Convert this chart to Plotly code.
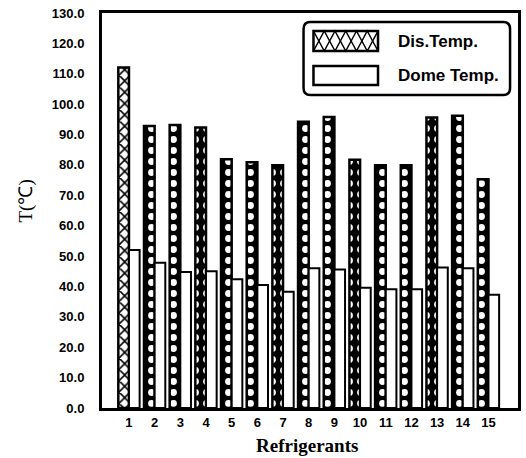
import plotly.graph_objects as go

refrigerants = list(range(1, 16))
tick_labels = [str(i) for i in refrigerants]
dis_temp = [112.1, 92.8, 93.1, 92.3, 81.9, 80.9, 79.9, 94.2, 95.8, 81.7, 79.9, 79.9, 95.6, 96.2, 75.3]
dome_temp = [52.0, 47.8, 44.8, 45.0, 42.4, 40.5, 38.3, 46.0, 45.6, 39.6, 39.1, 39.1, 46.2, 46.0, 37.3]
series_names = ["Dis.Temp.", "Dome Temp."]
y_ticks = [i * 10 for i in range(14)]
y_tick_text = [f"{v:.1f}" for v in y_ticks]

W, H = 526, 458
ML, MR, MT, MB = 102, 5, 13, 50
PW, PH = W - ML - MR, H - MT - MB


def px(x):
    return (x - ML) / PW


def py(y):
    return (H - MB - y) / PH


fig = go.Figure()
# first refrigerant: cross-hatched discharge bar
fig.add_trace(go.Bar(
    x=refrigerants[:1], y=dis_temp[:1], name=series_names[0], offsetgroup="dis",
    marker=dict(color="white", line=dict(color="black", width=2.5),
                pattern=dict(shape="x", fillmode="replace", bgcolor="white",
                             fgcolor="black", size=8, solidity=0.35)),
    showlegend=False,
))
# remaining refrigerants: dotted discharge bars
fig.add_trace(go.Bar(
    x=refrigerants[1:], y=dis_temp[1:], name=series_names[0], offsetgroup="dis",
    marker=dict(color="black", line=dict(color="black", width=2.5),
                pattern=dict(shape=".", fillmode="replace", bgcolor="black",
                             fgcolor="white", size=11, solidity=0.3)),
    showlegend=False,
))
fig.add_trace(go.Bar(
    x=refrigerants, y=dome_temp, name=series_names[1], offsetgroup="dome",
    marker=dict(color="white", line=dict(color="black", width=2)),
    showlegend=False,
))

# custom legend (box, symbols, labels)
shapes = []
bx0, bx1, by0, by1, r = 305, 513, 22, 95, 7
path = (f"M {px(bx0 + r)},{py(by0)} L {px(bx1 - r)},{py(by0)} "
        f"Q {px(bx1)},{py(by0)} {px(bx1)},{py(by0 + r)} L {px(bx1)},{py(by1 - r)} "
        f"Q {px(bx1)},{py(by1)} {px(bx1 - r)},{py(by1)} L {px(bx0 + r)},{py(by1)} "
        f"Q {px(bx0)},{py(by1)} {px(bx0)},{py(by1 - r)} L {px(bx0)},{py(by0 + r)} "
        f"Q {px(bx0)},{py(by0)} {px(bx0 + r)},{py(by0)} Z")
shapes.append(dict(type="path", xref="paper", yref="paper", path=path,
                   line=dict(color="black", width=2.5), fillcolor="white", layer="above"))
sx0, sx1 = 315, 380
d0, d1 = 31, 51
shapes.append(dict(type="rect", xref="paper", yref="paper", x0=px(sx0), x1=px(sx1),
                   y0=py(d1), y1=py(d0), fillcolor="white",
                   line=dict(color="black", width=2.5), layer="above"))
nseg = 6
step = (sx1 - sx0) / nseg
for start_top in (True, False):
    pts = []
    for k in range(nseg + 1):
        top = (k % 2 == 0) == start_top
        pts.append((sx0 + k * step, d0 if top else d1))
    p = "M " + " L ".join(f"{px(a)},{py(b)}" for a, b in pts)
    shapes.append(dict(type="path", xref="paper", yref="paper", path=p,
                       line=dict(color="black", width=1.5), layer="above"))
shapes.append(dict(type="rect", xref="paper", yref="paper", x0=px(sx0), x1=px(sx1),
                   y0=py(85), y1=py(66), fillcolor="white",
                   line=dict(color="black", width=2.5), layer="above"))

annotations = [
    dict(text=series_names[0], xref="paper", yref="paper", x=px(398), y=py(41),
         xanchor="left", yanchor="middle", showarrow=False,
         font=dict(family="Liberation Sans, Arial", size=17, color="black", weight="bold")),
    dict(text=series_names[1], xref="paper", yref="paper", x=px(398), y=py(76),
         xanchor="left", yanchor="middle", showarrow=False,
         font=dict(family="Liberation Sans, Arial", size=17, color="black", weight="bold")),
    dict(text="T(℃)", xref="paper", yref="paper", x=px(25), y=py(201),
         xanchor="center", yanchor="middle", showarrow=False, textangle=-90,
         font=dict(family="Liberation Serif, Times New Roman", size=19, color="black")),
    dict(text="Refrigerants", xref="paper", yref="paper", x=px(308), y=py(445),
         xanchor="center", yanchor="middle", showarrow=False,
         font=dict(family="Liberation Serif, Times New Roman", size=19, color="black", weight="bold")),
]

fig.update_layout(
    width=W, height=H,
    margin=dict(l=ML, r=MR, t=MT, b=MB),
    paper_bgcolor="white", plot_bgcolor="white",
    barmode="group", bargap=0.17, bargroupgap=0,
    showlegend=False,
    shapes=shapes, annotations=annotations,
    xaxis=dict(
        range=[-0.05, 16.15], tickmode="array", tickvals=refrigerants, ticktext=tick_labels,
        showline=True, linecolor="black", linewidth=3, mirror=True,
        showgrid=False, zeroline=False, ticks="",
        tickfont=dict(family="Liberation Sans, Arial", size=13, color="black", weight="bold"),
    ),
    yaxis=dict(
        range=[0, 130], tickmode="array", tickvals=y_ticks, ticktext=y_tick_text,
        showline=True, linecolor="black", linewidth=3, mirror=True,
        showgrid=False, zeroline=False, ticks="", ticklabelstandoff=12,
        tickfont=dict(family="Liberation Sans, Arial", size=13, color="black", weight="bold"),
    ),
)

fig.write_html("out.html")
